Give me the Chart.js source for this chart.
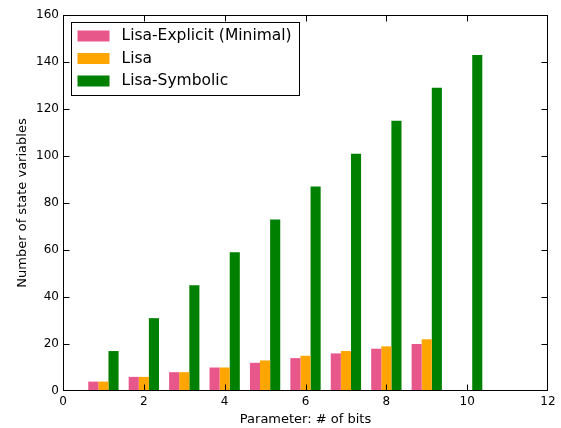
<!DOCTYPE html>
<html><head><meta charset="utf-8">
<script src="https://cdn.jsdelivr.net/npm/chart.js@4/dist/chart.umd.min.js"></script>
<style>html,body{margin:0;padding:0;background:#fff}#wrap{width:561px;height:428px}</style>
</head><body><div id="wrap"><canvas id="c" width="561" height="428"></canvas></div>
<script>
const bits = [1,2,3,4,5,6,7,8,9,10];
const explicitVals = [4,6,8,10,12,14,16,18,20,0];
const lisaVals = [4,6,8,10,13,15,17,19,22,0];
const symbolicVals = [17,31,45,59,73,87,101,115,129,143];
const seriesNames = ['Lisa-Explicit (Minimal)','Lisa','Lisa-Symbolic'];
const seriesColors = ['#e8578a','#ffa500','#008000'];
const xTicks = [0,2,4,6,8,10,12];
const yTicks = [0,20,40,60,80,100,120,140,160];

const FONT = 'DejaVu Sans';
const toPts = v => bits.map((b,i)=>({x:b,y:v[i]}));

const frameTicks = {
  id:'frameTicks',
  afterDatasetsDraw(chart){
    const {ctx, chartArea:a, scales:{x,y}} = chart;
    ctx.save();
    ctx.strokeStyle='#000'; ctx.lineWidth=1;
    const l=Math.round(a.left)+0.5, r=Math.round(a.right)-0.5, t=Math.round(a.top)+0.5, b=Math.round(a.bottom)-0.5;
    ctx.strokeRect(l,t,r-l,b-t);
    const L=6;
    ctx.beginPath();
    xTicks.forEach(v=>{let px=Math.round(x.getPixelForValue(v))+0.5; px=Math.min(Math.max(px,l),r);
      ctx.moveTo(px,b); ctx.lineTo(px,b-L);
      ctx.moveTo(px,t); ctx.lineTo(px,t+L);});
    yTicks.forEach(v=>{let py=Math.round(y.getPixelForValue(v))+0.5; py=Math.min(Math.max(py,t),b);
      ctx.moveTo(l,py); ctx.lineTo(l+L,py);
      ctx.moveTo(r,py); ctx.lineTo(r-L,py);});
    ctx.stroke();
    // legend
    const bx=l+8, by=t+7, bw=228, bh=73;
    ctx.fillStyle='#fff'; ctx.fillRect(bx,by,bw,bh);
    ctx.strokeStyle='#000'; ctx.strokeRect(bx,by,bw,bh);
    ctx.font='15.5px "'+FONT+'"'; ctx.textBaseline='middle'; ctx.textAlign='left';
    chart.data.datasets.forEach((ds,i)=>{
      const cy=by+13+i*22.5;
      ctx.fillStyle=ds.backgroundColor; ctx.fillRect(bx+6,cy-5,32,11);
      ctx.fillStyle='#000'; ctx.fillText(ds.label,bx+50,cy+0.5);
    });
    ctx.restore();
  }
};

new Chart(document.getElementById('c'),{
  type:'bar',
  data:{datasets:[
    {label:seriesNames[0],data:toPts(explicitVals),backgroundColor:seriesColors[0]},
    {label:seriesNames[1],data:toPts(lisaVals),backgroundColor:seriesColors[1]},
    {label:seriesNames[2],data:toPts(symbolicVals),backgroundColor:seriesColors[2]}
  ]},
  options:{
    responsive:false, animation:false,
    layout:{padding:{left:15,right:13,top:15,bottom:1}},
    categoryPercentage:0.75, barPercentage:1.0,
    plugins:{legend:{display:false},tooltip:{enabled:false}},
    scales:{
      x:{type:'linear',min:0,max:12,offset:false,
        grid:{display:false,drawTicks:false},border:{display:false},
        afterBuildTicks(s){s.ticks=xTicks.map(v=>({value:v}));},
        afterFit(s){s.height=36;},
        ticks:{padding:4,color:'#000',font:{family:FONT,size:12},maxRotation:0,autoSkip:false},
        title:{display:true,text:'Parameter: # of bits',color:'#000',font:{family:FONT,size:13},padding:{top:0,bottom:0}}},
      y:{min:0,max:160,
        grid:{display:false,drawTicks:false},border:{display:false},
        afterBuildTicks(s){s.ticks=yTicks.map(v=>({value:v}));},
        afterFit(s){s.width=48;},
        ticks:{padding:4,color:'#000',font:{family:FONT,size:12}},
        title:{display:true,text:'Number of state variables',color:'#000',font:{family:FONT,size:13},padding:{top:0,bottom:0}}}
    }
  },
  plugins:[frameTicks]
});
</script></body></html>
